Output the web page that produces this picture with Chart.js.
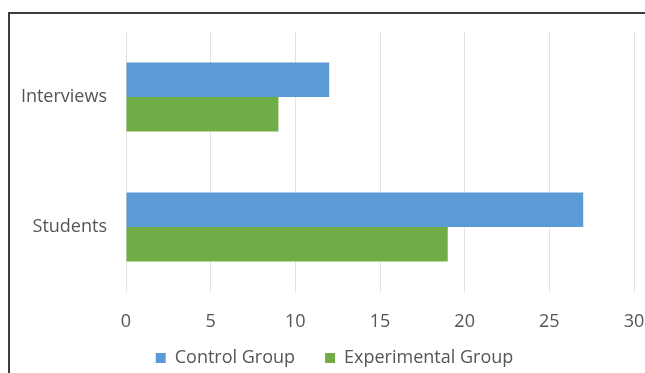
<!DOCTYPE html>
<html>
<head>
<meta charset="utf-8">
<script src="https://cdn.jsdelivr.net/npm/chart.js@4/dist/chart.umd.min.js"></script>
<style>
  html, body { margin: 0; padding: 0; background: #ffffff; overflow: hidden; }
  #frame { position: absolute; left: 8px; top: 12px; width: 700px; height: 400px; border: 2px solid #3c3c3c; box-sizing: border-box; }
  #wrap { position: absolute; left: 0; top: 0; width: 645px; height: 373px; }
</style>
</head>
<body>
<div id="frame"></div>
<div id="wrap"><canvas id="c" width="645" height="373"></canvas></div>
<script>
const categories = ["Interviews", "Students"];
const controlGroup = [12, 27];
const experimentalGroup = [9, 19];
const seriesNames = ["Control Group", "Experimental Group"];
const xTicks = [0, 5, 10, 15, 20, 25, 30];

const textColor = "#555555";
const fontFamily = "'Open Sans', sans-serif";

const noLabelClip = {
  id: "noLabelClip",
  beforeDraw(chart) {
    Object.values(chart.scales).forEach(s => { s._computeLabelArea = () => undefined; });
  }
};

new Chart(document.getElementById("c"), {
  type: "bar",
  data: {
    labels: categories,
    datasets: [
      { label: seriesNames[0], data: controlGroup, backgroundColor: "#5b9bd5", borderWidth: 0, barPercentage: 1.0, categoryPercentage: 0.53 },
      { label: seriesNames[1], data: experimentalGroup, backgroundColor: "#70ad47", borderWidth: 0, barPercentage: 1.0, categoryPercentage: 0.53 }
    ]
  },
  plugins: [noLabelClip],
  options: {
    indexAxis: "y",
    responsive: false,
    animation: false,
    layout: { padding: { left: 35, right: 11, top: 32, bottom: -4 } },
    plugins: {
      tooltip: { enabled: false },
      legend: {
        position: "bottom",
        labels: {
          boxWidth: 10, boxHeight: 10, padding: 30,
          color: textColor,
          font: { family: fontFamily, size: 18 }
        }
      }
    },
    scales: {
      x: {
        min: 0, max: 30,
        afterBuildTicks: (axis) => { axis.ticks = xTicks.map(v => ({ value: v })); },
        grid: { color: "#e3e3e3", drawTicks: false, lineWidth: 1 },
        border: { display: false },
        ticks: { color: textColor, font: { family: fontFamily, size: 18 }, padding: 19 },
        afterFit: (axis) => { axis.height = 27; axis.paddingLeft = 0; axis.paddingRight = 0; }
      },
      y: {
        grid: { display: false, drawTicks: false },
        border: { display: false },
        ticks: { color: textColor, font: { family: fontFamily, size: 18 }, padding: 19 },
        afterFit: (axis) => { axis.width = 91; axis.paddingTop = 0; axis.paddingBottom = 0; }
      }
    }
  }
});
</script>
</body>
</html>
